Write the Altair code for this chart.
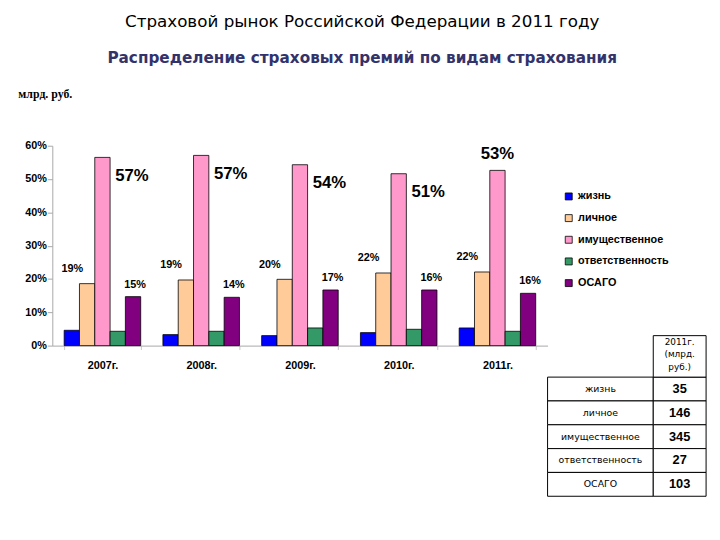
import altair as alt
import pandas as pd

years = ["2007г.", "2008г.", "2009г.", "2010г.", "2011г."]
categories = ["жизнь", "личное", "имущественное", "ответственность", "ОСАГО"]
colors = ["#0000FF", "#FFCC99", "#FF99CC", "#339966", "#800080"]

zhizn = [4.6, 3.3, 3.0, 3.9, 5.3]
lichnoe = [18.6, 19.7, 19.9, 21.8, 22.1]
imush = [56.5, 57.1, 54.3, 51.6, 52.6]
otvet = [4.3, 4.3, 5.3, 4.9, 4.3]
osago = [14.7, 14.5, 16.7, 16.7, 15.7]

lichnoe_labels = ["19%", "19%", "20%", "22%", "22%"]
imush_labels = ["57%", "57%", "54%", "51%", "53%"]
osago_labels = ["15%", "14%", "17%", "16%", "16%"]

table_values = [35, 146, 345, 27, 103]
table_header = "2011г.\n(млрд.\nруб.)"

series = [zhizn, lichnoe, imush, otvet, osago]
rows = []
for c, vals in zip(categories, series):
    for y, v in zip(years, vals):
        rows.append({"year": y, "cat": c, "value": v / 100})
df = pd.DataFrame(rows)

lab_rows = []
for c, labs in [("личное", lichnoe_labels), ("имущественное", imush_labels), ("ОСАГО", osago_labels)]:
    vals = series[categories.index(c)]
    for y, v, l in zip(years, vals, labs):
        lab_rows.append({"year": y, "cat": c, "value": v / 100, "label": l})
ldf = pd.DataFrame(lab_rows)

FONT = "Liberation Sans"
WIDE = "DejaVu Sans"

x_enc = alt.X("year:N", sort=years, scale=alt.Scale(paddingInner=0.225, paddingOuter=0.12),
              axis=alt.Axis(title=None, labelFont=FONT, labelFontWeight="bold", labelFontSize=11,
                            labelColor="black", labelPadding=10, domainColor="#A8A8A8",
                            tickBand="extent", tickColor="#C8C8C8", tickSize=4, labelAngle=0))
xo_enc = alt.XOffset("cat:N", sort=categories, scale=alt.Scale(paddingInner=0, paddingOuter=0))
y_enc = alt.Y("value:Q", scale=alt.Scale(domain=[0, 0.6], nice=False),
              axis=alt.Axis(title="млрд. руб.", format=".0%", tickCount=7,
                            values=[0, 0.1, 0.2, 0.3, 0.4, 0.5, 0.6], labelOverlap=False,
                            grid=False, labelFont=FONT, labelFontWeight="bold", labelFontSize=11,
                            labelColor="black", labelPadding=1, tickSize=5, tickColor="#A8A8A8",
                            domainColor="#A8A8A8",
                            titleAngle=0, titleAlign="left", titleBaseline="middle", titleX=-35, titleY=-53,
                            titleFont="Liberation Serif", titleFontSize=12, titleFontWeight="bold",
                            titleColor="black"))

bars = alt.Chart(df).mark_bar(stroke="black", strokeWidth=0.8).encode(
    x=x_enc, xOffset=xo_enc, y=y_enc,
    color=alt.Color("cat:N", sort=categories,
                    scale=alt.Scale(domain=categories, range=colors),
                    legend=alt.Legend(title=None, orient="none", legendX=519, legendY=46,
                                      symbolType="square", symbolSize=50, symbolStrokeColor="black",
                                      symbolStrokeWidth=0.8, labelFont=FONT, labelFontWeight="bold",
                                      labelFontSize=11, labelColor="black", labelOffset=4,
                                      rowPadding=10))
)

base_lab = alt.Chart(ldf)
xl = alt.X("year:N", sort=years)
xol = alt.XOffset("cat:N", sort=categories)
small = dict(font=FONT, fontWeight="bold", fontSize=11, color="black", baseline="middle")
lab_orange = base_lab.transform_filter(alt.datum.cat == "личное").mark_text(
    align="center", dx=-15, dy=-15, **small).encode(x=xl, xOffset=xol, y="value:Q", text="label:N")
lab_purple = base_lab.transform_filter(alt.datum.cat == "ОСАГО").mark_text(
    align="center", dx=2, dy=-12, **small).encode(x=xl, xOffset=xol, y="value:Q", text="label:N")
big = dict(font=FONT, fontWeight="bold", fontSize=17, color="black", baseline="middle")
lab_pink = base_lab.transform_filter((alt.datum.cat == "имущественное") & (alt.datum.year != "2011г.")).mark_text(
    align="left", dx=13, dy=19, **big).encode(x=xl, xOffset=xol, y="value:Q", text="label:N")
lab_pink2 = base_lab.transform_filter((alt.datum.cat == "имущественное") & (alt.datum.year == "2011г.")).mark_text(
    align="center", dx=0, dy=-17, **big).encode(x=xl, xOffset=xol, y="value:Q", text="label:N")

main = alt.layer(bars, lab_orange, lab_purple, lab_pink, lab_pink2).properties(width=503, height=203)

# table
hdr = 1.74
off = 9.71
cells = []
texts = []
for i, (c, v) in enumerate(zip(categories, table_values)):
    cells.append({"x0": 0, "x1": 2, "y0": i, "y1": i + 1})
    cells.append({"x0": 2, "x1": 3, "y0": i, "y1": i + 1})
    texts.append({"x": 1.0, "y": i + 0.5, "t": c, "kind": "label"})
    texts.append({"x": 2.5, "y": i + 0.5, "t": str(v), "kind": "value"})
cells.append({"x0": 2, "x1": 3, "y0": -hdr, "y1": 0})
cdf = pd.DataFrame(cells)
tdf = pd.DataFrame(texts)
hdf = pd.DataFrame([{"x": 2.5, "y": -hdr, "t": table_header}])

xs = alt.Scale(domain=[0, 3], nice=False, zero=False)
ys = alt.Scale(domain=[-off, 5], nice=False, zero=False, reverse=True)

trect = alt.Chart(cdf).mark_rect(fill="white", stroke="black", strokeWidth=1).encode(
    x=alt.X("x0:Q", scale=xs, axis=None), x2="x1:Q",
    y=alt.Y("y0:Q", scale=ys, axis=None), y2="y1:Q")
tlab = alt.Chart(tdf).transform_filter(alt.datum.kind == "label").mark_text(
    font=WIDE, fontSize=9.5, color="black", baseline="middle", align="center").encode(
    x=alt.X("x:Q", scale=xs, axis=None), y=alt.Y("y:Q", scale=ys, axis=None), text="t:N")
tval = alt.Chart(tdf).transform_filter(alt.datum.kind == "value").mark_text(
    font=FONT, fontSize=13, fontWeight="bold", color="black", baseline="middle", align="center").encode(
    x=alt.X("x:Q", scale=xs, axis=None), y=alt.Y("y:Q", scale=ys, axis=None), text="t:N")
thdr = alt.Chart(hdf).mark_text(
    font=WIDE, fontSize=9, color="black", baseline="top", align="center", lineBreak="\n",
    lineHeight=13, dy=2).encode(
    x=alt.X("x:Q", scale=xs, axis=None), y=alt.Y("y:Q", scale=ys, axis=None), text="t:N")

table = alt.layer(trect, tlab, tval, thdr).properties(width=161, height=356)

chart = alt.hconcat(main, table, spacing=-9, bounds="flush").resolve_scale(
    x="independent", y="independent", color="independent"
).properties(
    title=alt.TitleParams(
        text="Страховой рынок Российской Федерации в 2011 году",
        subtitle="Распределение страховых премий по видам страхования",
        anchor="middle", frame="bounds", font=WIDE, fontSize=17, fontWeight="normal", color="black",
        subtitleFont=WIDE, subtitleFontSize=15.5, subtitleFontWeight="bold", subtitleColor="#33336B",
        subtitlePadding=20, offset=21),
    padding={"left": 10, "top": 1, "right": 5, "bottom": 5},
).configure_view(stroke=None)

chart.save("out.html", embed_options={"renderer": "svg", "actions": False})
